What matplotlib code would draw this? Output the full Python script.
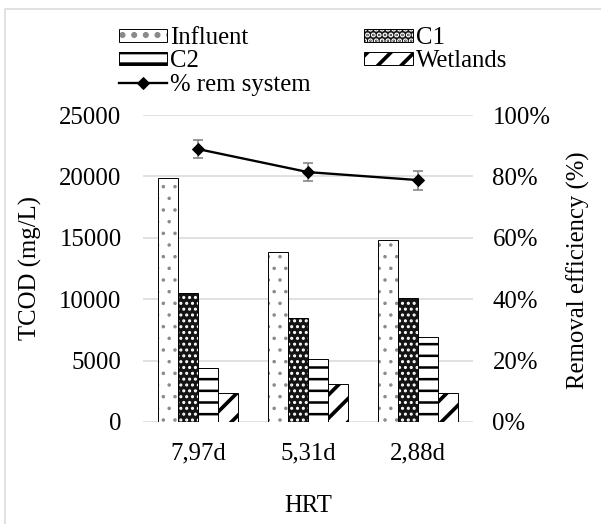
import numpy as np
import matplotlib
matplotlib.use("Agg")
import matplotlib.pyplot as plt
from matplotlib.patches import Patch, Rectangle
from matplotlib.lines import Line2D

# data
hrt = ["7,97d", "5,31d", "2,88d"]
influent = [19900, 13870, 14800]
c1 = [10500, 8440, 10070]
c2 = [4370, 5160, 6950]
wetlands = [2340, 3070, 2390]
rem_system = [88.9, 81.4, 78.8]
rem_err = [3.0, 3.0, 3.1]

DPI = 70
W, H = 601, 524
plt.rcParams["font.family"] = ["Liberation Serif", "DejaVu Serif"]
plt.rcParams["font.size"] = 25.5

fig = plt.figure(figsize=(W / DPI, H / DPI), dpi=DPI)
ax = fig.add_axes([143 / W, 102 / H, 330 / W, 307 / H])

series = {
    "Influent": influent,
    "C1": c1,
    "C2": c2,
    "Wetlands": wetlands,
}
styles = {
    "Influent": dict(face="white", hcol="#8a8a8a", hatch=".", hlw=1.2),
    "C1": dict(face="#141414", hcol="white", hatch="..", hlw=2.0),
    "C2": dict(face="white", hcol="black", hatch="-", hlw=2.6),
    "Wetlands": dict(face="white", hcol="black", hatch="/", hlw=3.8),
}

x = np.arange(len(hrt))
width = 20 / 110
handles = {}
for i, name in enumerate(series):
    st = styles[name]
    plt.rcParams["hatch.linewidth"] = st["hlw"]
    pos = x + (i - 1.5) * width
    ax.bar(pos, series[name], width, color=st["face"], edgecolor=st["hcol"],
           hatch=st["hatch"], linewidth=0, zorder=2)
    ax.bar(pos, series[name], width, fill=False, edgecolor="black",
           linewidth=1.0, zorder=3)
    p1 = Patch(facecolor=st["face"], edgecolor=st["hcol"], hatch=st["hatch"], linewidth=0)
    p2 = Patch(fill=False, edgecolor="black", linewidth=1.0)
    handles[name] = (p1, p2)

ax.set_xlim(-0.5, 2.5)
ax.set_ylim(0, 25000)
ax.set_yticks(np.arange(0, 25001, 5000))
ax.set_xticks(x)
ax.set_xticklabels(hrt)
ax.yaxis.grid(True, color="#d9d9d9", linewidth=1.6)
ax.set_axisbelow(True)
for s in ax.spines.values():
    s.set_visible(False)
ax.tick_params(axis="y", length=0, pad=22)
ax.tick_params(axis="x", length=0, pad=21)

ax2 = ax.twinx()
ax2.errorbar(x, rem_system, yerr=rem_err, color="black", linewidth=2.4,
             marker="D", markersize=9, ecolor="#7f7f7f", elinewidth=1.6,
             capsize=5.5, capthick=1.6, zorder=4)
ax2.set_ylim(0, 100)
ax2.set_yticks(np.arange(0, 101, 20))
ax2.set_yticklabels([f"{v}%" for v in range(0, 101, 20)])
for s in ax2.spines.values():
    s.set_visible(False)
ax2.tick_params(axis="y", length=0, pad=20)

fig.text(30 / W, 1 - 268 / H, "TCOD (mg/L)", rotation=90, ha="center", va="center")
fig.text(578 / W, 1 - 270 / H, "Removal efficiency (%)", rotation=90, ha="center", va="center")
fig.text(308 / W, 1 - 506 / H, "HRT", ha="center", va="center")

line_handle = Line2D([], [], color="black", linewidth=2.4, marker="D", markersize=9)
order = ["Influent", "C2", "rem", "C1", "Wetlands"]
labels = {"Influent": "Influent", "C1": "C1", "C2": "C2", "Wetlands": "Wetlands",
          "rem": "% rem system"}
handles["rem"] = line_handle
fig.legend([handles[k] for k in order], [labels[k] for k in order],
           loc="upper left", bbox_to_anchor=(119 / W, 1 - 27 / H),
           bbox_transform=fig.transFigure, ncol=2, frameon=False,
           borderpad=0, borderaxespad=0, handlelength=1.95, handleheight=0.45,
           handletextpad=0.12, columnspacing=2.15, labelspacing=0.06)

fig.patches.append(Rectangle((5 / W, -0.05), 1.1, 1 - 9 / H + 0.05,
                             transform=fig.transFigure, fill=False,
                             edgecolor="#d9d9d9", linewidth=1.6))

fig.savefig("out.png", dpi=DPI)
